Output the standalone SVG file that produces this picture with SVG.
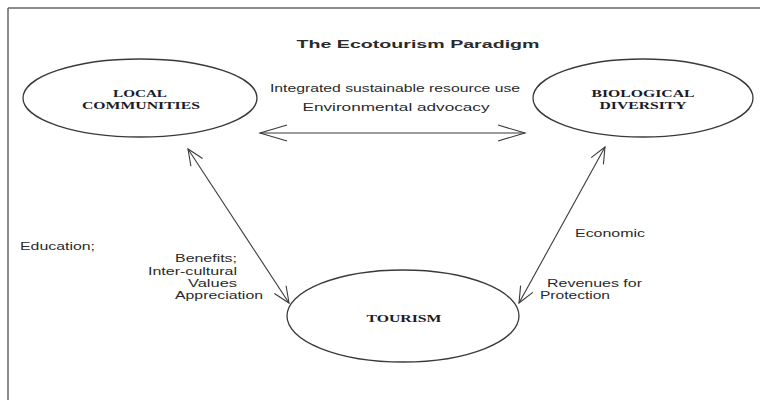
<svg xmlns="http://www.w3.org/2000/svg" width="760" height="400" viewBox="0 0 760 400">
<style>
.node{fill:#fff;stroke:#3a3a3a;stroke-width:1.3}
.nl{font-family:"Liberation Serif","Times New Roman",serif;font-weight:bold;font-size:11px;fill:#1a1a2a;text-anchor:middle}
.lbl{font-family:"Liberation Sans",Arial,sans-serif;font-size:11px;fill:#2a2a2a}
.conn{stroke:#3a3a3a;stroke-width:1.1;fill:none}
.frame{stroke:#666;stroke-width:1.5}
</style>
<defs>
<marker id="ah" markerUnits="userSpaceOnUse" viewBox="-30 -10 32 20" refX="0" refY="0" markerWidth="32" markerHeight="20" orient="auto-start-reverse"><path d="M-27,-8 L0,0 L-27,8" fill="none" stroke="#3a3a3a" stroke-width="1.1"/></marker>
<marker id="ad" markerUnits="userSpaceOnUse" viewBox="-20 -10 22 20" refX="0" refY="0" markerWidth="22" markerHeight="20" orient="auto-start-reverse"><path d="M-16,-7 L0,0 L-16,7" fill="none" stroke="#3a3a3a" stroke-width="1.1"/></marker>
</defs>
<rect width="760" height="400" fill="#fff"/>
<line class="frame" x1="8" y1="8" x2="760" y2="8" stroke="#aaa"/>
<line class="frame" x1="8" y1="8" x2="8" y2="400"/>
<text class="lbl" x="418" y="48" text-anchor="middle" font-weight="bold" font-size="13" textLength="243" lengthAdjust="spacingAndGlyphs">The Ecotourism Paradigm</text>
<g id="connectors">
<line class="conn" x1="260" y1="133" x2="525" y2="133" marker-start="url(#ah)" marker-end="url(#ah)"/>
<line class="conn" x1="188" y1="149" x2="289" y2="303" marker-start="url(#ad)" marker-end="url(#ad)"/>
<line class="conn" x1="605" y1="147" x2="519" y2="303" marker-start="url(#ad)" marker-end="url(#ad)"/>
<text class="lbl" x="395" y="92" text-anchor="middle" font-size="10.5" textLength="250" lengthAdjust="spacingAndGlyphs">Integrated sustainable resource use</text>
<text class="lbl" x="396" y="111" text-anchor="middle" font-size="12.5" textLength="187" lengthAdjust="spacingAndGlyphs">Environmental advocacy</text>
<text class="lbl" x="20" y="250" textLength="75" lengthAdjust="spacingAndGlyphs">Education;</text>
<text class="lbl" x="175" y="262" textLength="62" lengthAdjust="spacingAndGlyphs">Benefits;</text>
<text class="lbl" x="148" y="275" textLength="89" lengthAdjust="spacingAndGlyphs">Inter-cultural</text>
<text class="lbl" x="188" y="287" textLength="49" lengthAdjust="spacingAndGlyphs">Values</text>
<text class="lbl" x="175" y="299" textLength="88" lengthAdjust="spacingAndGlyphs">Appreciation</text>
<text class="lbl" x="575" y="237" textLength="70" lengthAdjust="spacingAndGlyphs">Economic</text>
<text class="lbl" x="547" y="287" textLength="95" lengthAdjust="spacingAndGlyphs">Revenues for</text>
<text class="lbl" x="540" y="299" textLength="70" lengthAdjust="spacingAndGlyphs">Protection</text>
</g>
<g id="local-communities">
<ellipse class="node" cx="140" cy="98" rx="117" ry="39"/>
<text class="nl" x="140" y="97" textLength="54" lengthAdjust="spacingAndGlyphs">LOCAL</text>
<text class="nl" x="141" y="109" textLength="118" lengthAdjust="spacingAndGlyphs">COMMUNITIES</text>
</g>
<g id="biological-diversity">
<ellipse class="node" cx="643" cy="98" rx="110" ry="39"/>
<text class="nl" x="643" y="97" textLength="103" lengthAdjust="spacingAndGlyphs">BIOLOGICAL</text>
<text class="nl" x="643" y="109" textLength="87" lengthAdjust="spacingAndGlyphs">DIVERSITY</text>
</g>
<g id="tourism">
<ellipse class="node" cx="403" cy="316" rx="116" ry="46"/>
<text class="nl" x="404" y="322" textLength="75" lengthAdjust="spacingAndGlyphs">TOURISM</text>
</g>
</svg>
